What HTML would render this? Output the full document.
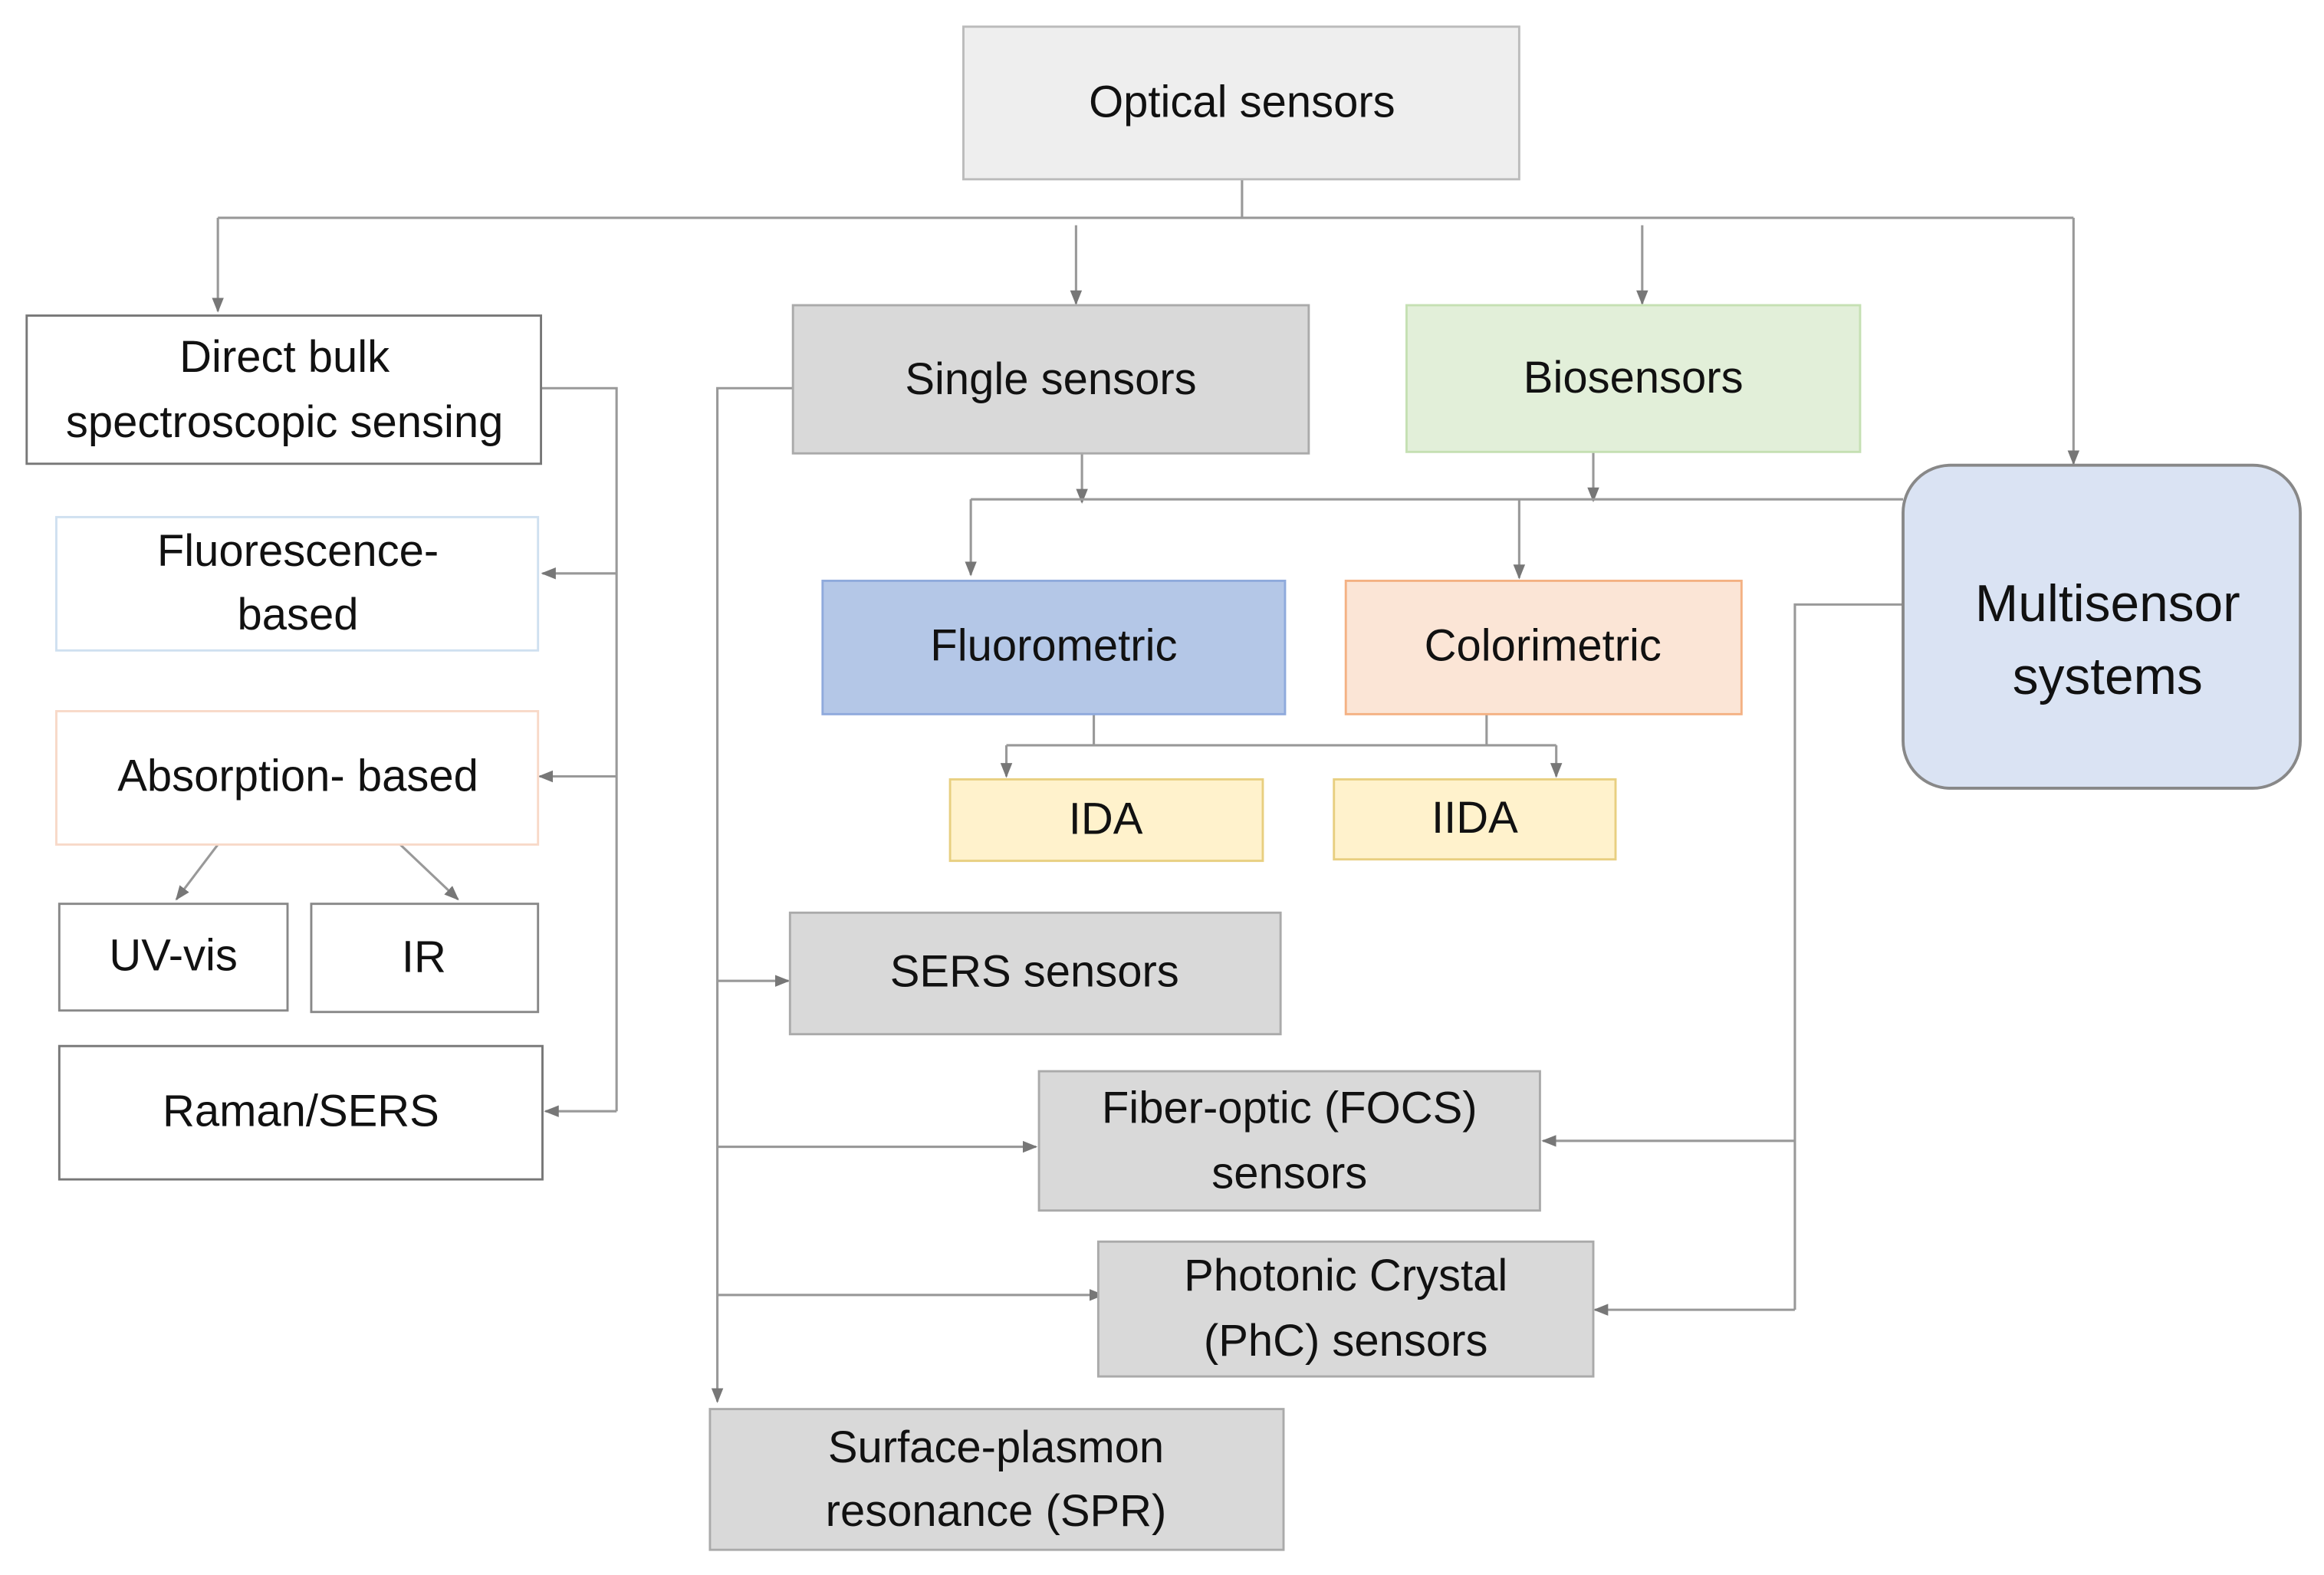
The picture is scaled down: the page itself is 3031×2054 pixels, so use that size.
<!DOCTYPE html>
<html><head><meta charset="utf-8"><style>
html,body{margin:0;padding:0;background:#fff;}
svg{display:block;}
text{font-family:"Liberation Sans",sans-serif;fill:#111;text-anchor:middle;dominant-baseline:middle;}
</style></head><body>
<svg width="3031" height="2054" viewBox="0 0 1568 1063" preserveAspectRatio="none" xmlns="http://www.w3.org/2000/svg">
<defs><marker id="a" markerWidth="10" markerHeight="10" refX="9" refY="5" orient="auto" markerUnits="userSpaceOnUse"><path d="M0,1 L10,5 L0,9 z" fill="#777"/></marker></defs>
<g stroke="#999" stroke-width="1.6" fill="none">
<path d="M838,121 V147 M147,147 H1399"/>
<path d="M147,147 V210" marker-end="url(#a)"/>
<path d="M726,152 V205" marker-end="url(#a)"/>
<path d="M1108,152 V205" marker-end="url(#a)"/>
<path d="M1399,147 V313" marker-end="url(#a)"/>
<path d="M365,262 H416 V750"/>
<path d="M416,387 H366" marker-end="url(#a)"/>
<path d="M416,524 H364" marker-end="url(#a)"/>
<path d="M416,750 H368" marker-end="url(#a)"/>
<path d="M147,570 L119,607" marker-end="url(#a)"/>
<path d="M270,570 L309,607" marker-end="url(#a)"/>
<path d="M535,262 H484 V946" marker-end="url(#a)"/>
<path d="M484,662 H532" marker-end="url(#a)"/>
<path d="M484,774 H699" marker-end="url(#a)"/>
<path d="M484,874 H744" marker-end="url(#a)"/>
<path d="M730,306 V339" marker-end="url(#a)"/>
<path d="M1075,305 V338" marker-end="url(#a)"/>
<path d="M655,337 H1284"/>
<path d="M655,337 V388" marker-end="url(#a)"/>
<path d="M1025,337 V390" marker-end="url(#a)"/>
<path d="M738,482 V503 M1003,482 V503 M679,503 H1050"/>
<path d="M679,503 V524" marker-end="url(#a)"/>
<path d="M1050,503 V524" marker-end="url(#a)"/>
<path d="M1284,408 H1211 V884"/>
<path d="M1211,770 H1041" marker-end="url(#a)"/>
<path d="M1211,884 H1076" marker-end="url(#a)"/>
</g>
<g stroke-width="1.5">
<rect x="650" y="18" width="375" height="103" fill="#eeeeee" stroke="#bbb"/>
<rect x="18" y="213" width="347" height="100" fill="#fff" stroke="#777"/>
<rect x="38" y="349" width="325" height="90" fill="#fff" stroke="#cfe0f0"/>
<rect x="38" y="480" width="325" height="90" fill="#fff" stroke="#f8d9c8"/>
<rect x="40" y="610" width="154" height="72" fill="#fff" stroke="#888"/>
<rect x="210" y="610" width="153" height="73" fill="#fff" stroke="#888"/>
<rect x="40" y="706" width="326" height="90" fill="#fff" stroke="#777"/>
<rect x="535" y="206" width="348" height="100" fill="#d9d9d9" stroke="#aaa"/>
<rect x="949" y="206" width="306" height="99" fill="#e2efd9" stroke="#c5e0b3"/>
<rect x="555" y="392" width="312" height="90" fill="#b4c7e7" stroke="#8faadc"/>
<rect x="908" y="392" width="267" height="90" fill="#fbe5d6" stroke="#f4b183"/>
<rect x="641" y="526" width="211" height="55" fill="#fff2cc" stroke="#e8cf80"/>
<rect x="900" y="526" width="190" height="54" fill="#fff2cc" stroke="#e8cf80"/>
<rect x="1284" y="314" width="268" height="218" rx="32" fill="#dae3f3" stroke="#888" stroke-width="2"/>
<rect x="533" y="616" width="331" height="82" fill="#d9d9d9" stroke="#aaa"/>
<rect x="701" y="723" width="338" height="94" fill="#d9d9d9" stroke="#aaa"/>
<rect x="741" y="838" width="334" height="91" fill="#d9d9d9" stroke="#aaa"/>
<rect x="479" y="951" width="387" height="95" fill="#d9d9d9" stroke="#aaa"/>
</g>
<g font-size="30">
<text x="838" y="71">Optical sensors</text>
<text x="192" y="243">Direct bulk</text>
<text x="192" y="287">spectroscopic sensing</text>
<text x="201" y="374">Fluorescence-</text>
<text x="201" y="417">based</text>
<text x="201" y="526">Absorption- based</text>
<text x="117" y="647">UV-vis</text>
<text x="286" y="648">IR</text>
<text x="203" y="752">Raman/SERS</text>
<text x="709" y="258">Single sensors</text>
<text x="1102" y="257">Biosensors</text>
<text x="711" y="438">Fluorometric</text>
<text x="1041" y="438">Colorimetric</text>
<text x="746" y="555">IDA</text>
<text x="995" y="554">IIDA</text>
<text x="698" y="658">SERS sensors</text>
<text x="870" y="750">Fiber-optic (FOCS)</text>
<text x="870" y="794">sensors</text>
<text x="908" y="863">Photonic Crystal</text>
<text x="908" y="907">(PhC) sensors</text>
<text x="672" y="979">Surface-plasmon</text>
<text x="672" y="1022">resonance (SPR)</text>
</g>
<g font-size="35">
<text x="1422" y="410">Multisensor</text>
<text x="1422" y="459">systems</text>
</g>
</svg>
</body></html>
